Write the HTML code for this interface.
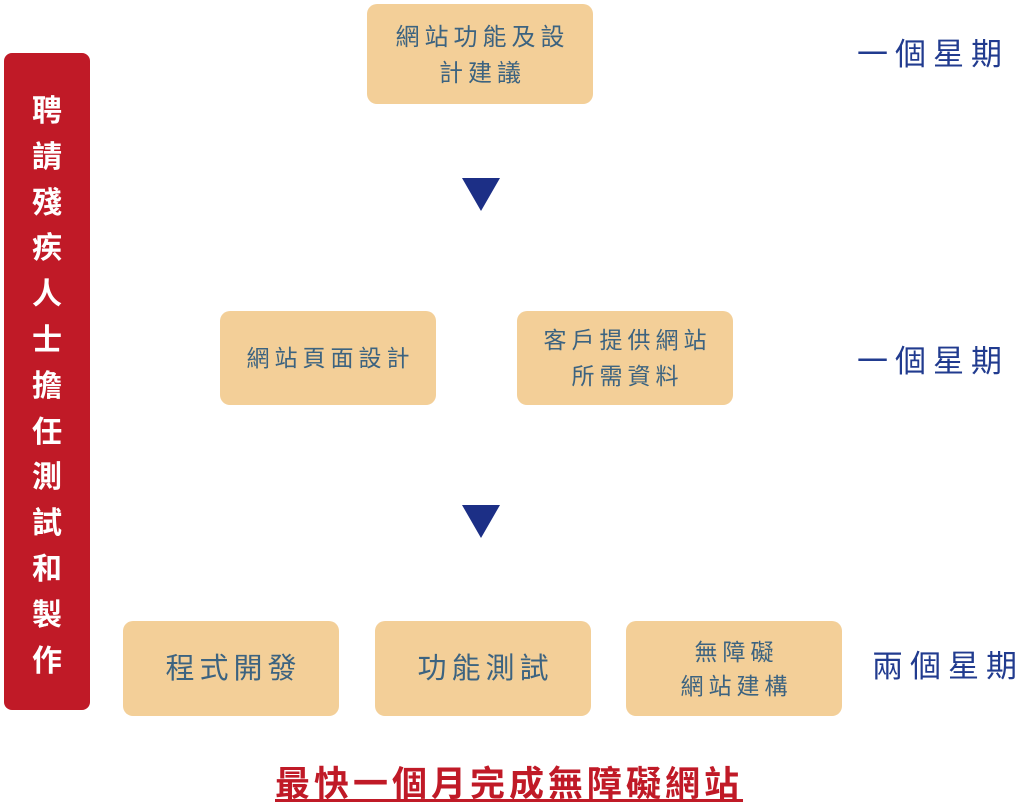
<!DOCTYPE html>
<html><head><meta charset="utf-8"><style>
body{margin:0;width:1024px;height:807px;background:#fff;position:relative;overflow:hidden;font-family:"Liberation Sans","Noto Sans CJK TC",sans-serif}
.b{position:absolute;background:#f3cf98;border-radius:10px;display:flex;align-items:center;justify-content:center;text-align:center;color:#3c6380;font-size:23px;letter-spacing:5px;line-height:36px}
.b span{margin-right:-5px}
.r{position:absolute;color:#213b8f;font-size:31px;letter-spacing:7px;line-height:40px}
.t{position:absolute;width:0;height:0;border-left:19px solid transparent;border-right:19px solid transparent;border-top:33px solid #1c2f86}
</style></head><body>
<div style="position:absolute;left:4px;top:53px;width:86px;height:657px;background:#c01a27;border-radius:8px;color:#fff;font-weight:bold;font-size:30px;line-height:45.8px;text-align:center;padding-top:36px;box-sizing:border-box">聘<br>請<br>殘<br>疾<br>人<br>士<br>擔<br>任<br>測<br>試<br>和<br>製<br>作</div>
<div class="b" style="left:367px;top:4px;width:226px;height:100px;font-size:24px;padding-top:4px;box-sizing:border-box"><span>網站功能及設<br>計建議</span></div>
<div class="t" style="left:462px;top:178px"></div>
<div class="b" style="left:220px;top:311px;width:216px;height:94px"><span>網站頁面設計</span></div>
<div class="b" style="left:517px;top:311px;width:216px;height:94px"><span>客戶提供網站<br>所需資料</span></div>
<div class="t" style="left:462px;top:505px"></div>
<div class="b" style="left:123px;top:621px;width:216px;height:95px;font-size:29px"><span>程式開發</span></div>
<div class="b" style="left:375px;top:621px;width:216px;height:95px;font-size:29px"><span>功能測試</span></div>
<div class="b" style="left:626px;top:621px;width:216px;height:95px;line-height:34px"><span>無障礙<br>網站建構</span></div>
<div class="r" style="left:857px;top:35px">一個星期</div>
<div class="r" style="left:857px;top:342px">一個星期</div>
<div class="r" style="left:872px;top:647px">兩個星期</div>
<div style="position:absolute;left:275px;top:764px;color:#c01a27;font-weight:bold;font-size:35px;letter-spacing:4px;line-height:42px;text-decoration:underline;text-underline-offset:3px">最快一個月完成無障礙網站</div>
</body></html>
